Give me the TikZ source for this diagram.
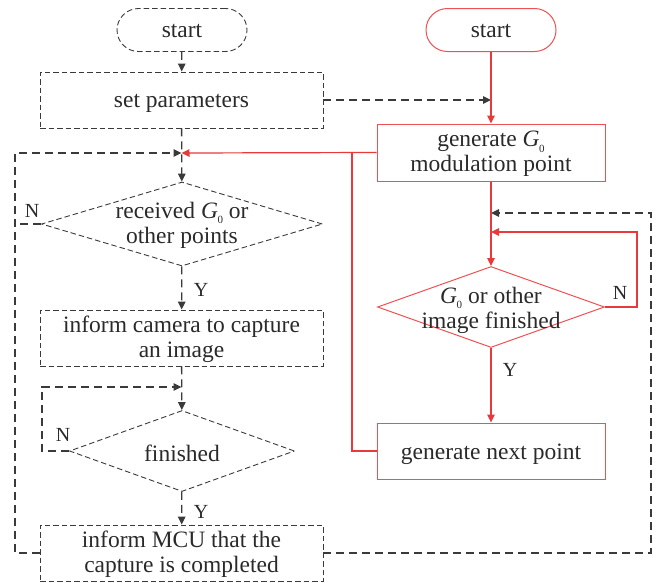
\documentclass[tikz,border=0pt]{standalone}
\usepackage{fontspec}
\setmainfont{Liberation Serif}
\usetikzlibrary{arrows.meta,shapes.geometric}
\definecolor{ink}{HTML}{2A2A2A}
\definecolor{dk}{HTML}{3A3A3A}
\definecolor{rd}{HTML}{E8393B}
\definecolor{rdb}{HTML}{EC5254}
\newcommand{\Gz}{{\itshape G}\kern-0.02em\raisebox{-0.5ex}{\fontsize{11}{11}\selectfont 0}}
\tikzset{
  txt/.style={text=ink,font=\fontsize{23.5}{25}\selectfont,align=center,inner sep=0pt},
  lbl/.style={text=ink,font=\fontsize{20}{20}\selectfont,inner sep=0pt},
  dbox/.style={draw=dk,line width=0.9pt,dash pattern=on 5.5pt off 3pt,rectangle,inner sep=0pt},
  rbox/.style={draw=rdb,line width=1pt,rectangle,inner sep=0pt},
  ddia/.style={draw=dk,line width=0.9pt,dash pattern=on 5.5pt off 3pt,diamond,inner sep=0pt},
  rdia/.style={draw=rdb,line width=1pt,diamond,inner sep=0pt},
  dline/.style={draw=dk,line width=1.3pt,dash pattern=on 8pt off 5pt},
  rline/.style={draw=rd,line width=1.2pt},
  darr/.style={-{Triangle[length=8pt,width=7.5pt]},dk},
  rarr/.style={-{Triangle[length=8pt,width=7.5pt]},rd},
}
\begin{document}
\begin{tikzpicture}[x=1pt,y=-1pt]
\useasboundingbox (0,0) rectangle (656,582);
% left column
\node[dbox,rounded corners=21.5pt,minimum width=130pt,minimum height=43pt] (startL) at (182,30) {};
\node[txt] (startLt) at (182,31) {start};
\node[dbox,minimum width=283pt,minimum height=56pt] (setp) at (181.5,100) {};
\node[txt] (setpt) at (181.5,103) {set parameters};
\node[ddia,minimum width=281pt,minimum height=84pt] (d1) at (182,224) {};
\node[txt] (d1t) at (182,225) {received \Gz\ or\\other points};
\node[dbox,minimum width=283pt,minimum height=56pt] (cam) at (181.5,338) {};
\node[txt] (camt) at (181.5,339) {inform camera to capture\\an image};
\node[ddia,minimum width=225pt,minimum height=81pt] (d2) at (182,451) {};
\node[txt] (d2t) at (182,453) {finished};
\node[dbox,minimum width=283pt,minimum height=56pt] (mcu) at (181.5,553) {};
\node[txt] (mcut) at (181.5,554) {inform MCU that the\\capture is completed};
% right column
\node[rbox,rounded corners=21.5pt,minimum width=130pt,minimum height=43pt] (startR) at (491,30) {};
\node[txt] (startRt) at (491,31) {start};
\node[rbox,minimum width=228pt,minimum height=57pt] (g0) at (491,152.5) {};
\node[txt] (g0t) at (491,154) {generate \Gz\\modulation point};
\node[rdia,minimum width=227pt,minimum height=81pt] (d3) at (491,307) {};
\node[txt] (d3t) at (491,310) {\Gz\ or other\\image finished};
\node[rbox,minimum width=228pt,minimum height=56pt] (next) at (491,451) {};
\node[txt] (nextt) at (491,454) {generate next point};
% junctions and corners
\coordinate (J1) at (181.5,153);
\coordinate (J2) at (181.5,387);
\coordinate (J0) at (491,100);
\coordinate (J3) at (491,213);
\coordinate (J4) at (491,232);
\coordinate (cL1) at (15,553);
\coordinate (cL2) at (15,153);
\coordinate (cN1) at (15,224);
\coordinate (cN2a) at (42,451);
\coordinate (cN2b) at (42,387);
\coordinate (cR1) at (651,553);
\coordinate (cR2) at (651,213);
\coordinate (cR3) at (637,307);
\coordinate (cR4) at (637,232);
\coordinate (cM1) at (352,451);
\coordinate (cM2) at (352,153);
% black dashed connectors
\draw[dline,darr] (startL) -- (setp);
\draw[dline,darr] (setp) -- (d1);
\draw[dline,darr] (mcu.west) -- (cL1) -- (cL2) -- (J1);
\draw[dline] (d1.west) -- (cN1);
\draw[dline,darr] (d1) -- (cam);
\draw[dline,darr] (cam) -- (d2);
\draw[dline,darr] (d2.west) -- (cN2a) -- (cN2b) -- (J2);
\draw[dline,darr] (d2) -- (mcu);
\draw[dline,darr] (setp.east) -- (J0);
\draw[dline,darr] (mcu.east) -- (cR1) -- (cR2) -- (J3);
% red connectors
\draw[rline,rarr] (startR) -- (g0);
\draw[rline,rarr] (g0.west) -- (J1);
\draw[rline] (next.west) -- (cM1) -- (cM2);
\draw[rline,rarr] (g0) -- (d3);
\draw[rline,rarr] (d3.east) -- (cR3) -- (cR4) -- (J4);
\draw[rline,rarr] (d3) -- (next);
% labels
\node[lbl] (n1) at (32,211) {N};
\node[lbl] (y1) at (201,290) {Y};
\node[lbl] (n2) at (63,435) {N};
\node[lbl] (y2) at (201,512) {Y};
\node[lbl] (n3) at (620,293) {N};
\node[lbl] (y3) at (510,370) {Y};
\end{tikzpicture}
\end{document}
